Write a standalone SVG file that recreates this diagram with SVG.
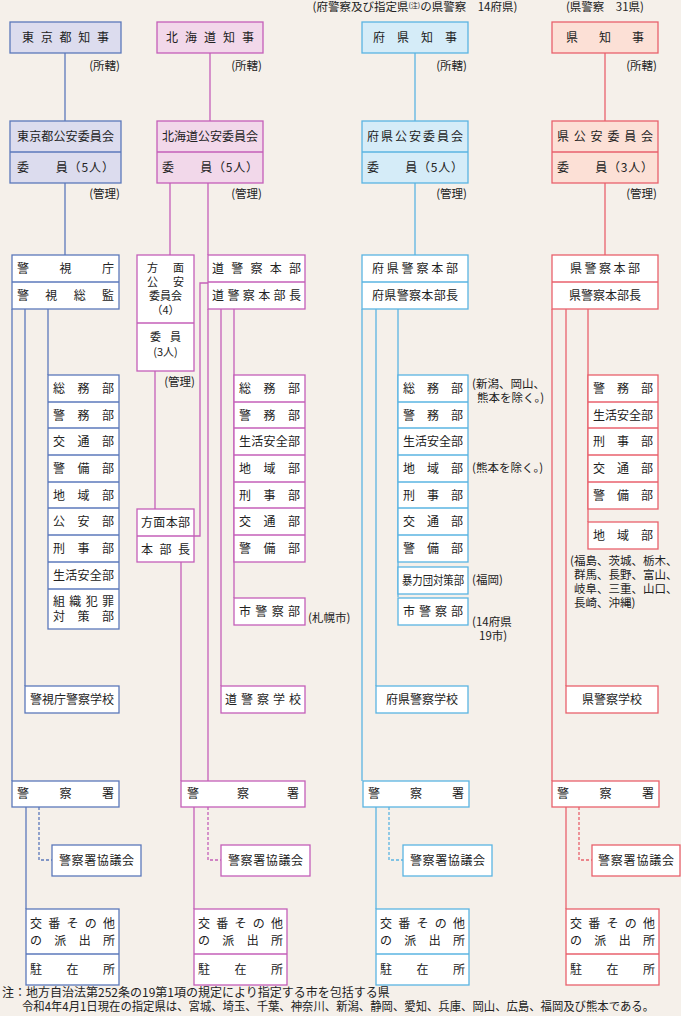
<svg xmlns="http://www.w3.org/2000/svg" width="681" height="1016" viewBox="0 0 681 1016">
<style>
text{font-family:"Noto Sans CJK JP","Noto Sans CJK SC",sans-serif;font-size:12px;fill:#222}
.s{font-size:11.5px}
.t{font-size:11px}
rect{stroke-width:1.3}
line,polyline{stroke-width:1.3;fill:none}
.b rect{stroke:#5b78bb}.b line,.b polyline{stroke:#5b78bb}
.m rect{stroke:#c45fb8}.m line,.m polyline{stroke:#c45fb8}
.c rect{stroke:#5ab4e2}.c line,.c polyline{stroke:#5ab4e2}
.r rect{stroke:#e8616c}.r line,.r polyline{stroke:#e8616c}
.w{fill:#fff}
.d{stroke-dasharray:3 2}
</style>
<rect width="681" height="1016" fill="#f5f0ea"/>
<text x="415" y="11" text-anchor="middle" class="s">(府警察及び指定県<tspan font-size="7" dy="-3">(注)</tspan><tspan dy="3">の県警察　14府県)</tspan></text>
<text x="605" y="11" text-anchor="middle" class="s">(県警察　31県)</text>

<g id="connectors">
<g class="b">
<line x1="65" y1="53" x2="65" y2="121"/><line x1="65" y1="183" x2="65" y2="255"/>
<line x1="12" y1="309" x2="12" y2="781"/><line x1="25" y1="309" x2="25" y2="686"/><line x1="48" y1="309" x2="48" y2="375"/>
<polyline class="d" points="39,807 39,860 52,860"/><line x1="26" y1="807" x2="26" y2="909"/>
</g>
<g class="m">
<line x1="210" y1="53" x2="210" y2="121"/><line x1="170" y1="183" x2="170" y2="255"/><line x1="208" y1="183" x2="208" y2="255"/>
<line x1="155" y1="371" x2="155" y2="509"/>
<polyline points="208,283 200,283 200,536 194,536"/>
<line x1="208" y1="309" x2="208" y2="781"/><line x1="221" y1="309" x2="221" y2="686"/><line x1="234" y1="309" x2="234" y2="598"/>
<line x1="181" y1="562" x2="181" y2="781"/>
<polyline class="d" points="208,807 208,860 221,860"/><line x1="194" y1="807" x2="194" y2="909"/>
</g>
<g class="c">
<line x1="415" y1="53" x2="415" y2="121"/><line x1="415" y1="183" x2="415" y2="255"/>
<line x1="362" y1="309" x2="362" y2="781"/><line x1="376" y1="309" x2="376" y2="686"/><line x1="398" y1="309" x2="398" y2="597"/>
<polyline class="d" points="389,807 389,860 403,860"/><line x1="376" y1="807" x2="376" y2="909"/>
</g>
<g class="r">
<line x1="605" y1="53" x2="605" y2="121"/><line x1="605" y1="183" x2="605" y2="255"/>
<line x1="552" y1="309" x2="552" y2="781"/><line x1="566" y1="309" x2="566" y2="686"/><line x1="588" y1="309" x2="588" y2="522"/>
<polyline class="d" points="579,807 579,860 592,860"/><line x1="566" y1="807" x2="566" y2="909"/>
</g>
</g>

<!-- Tokyo -->
<g class="b">
<g id="tokyo-governor"><rect x="10" y="22" width="111" height="31" fill="#dcdcee"/><text x="22" y="42" textLength="87" lengthAdjust="spacing">東京都知事</text></g>
<text x="120" y="70" text-anchor="end" class="s">(所轄)</text>
<g id="tokyo-psc"><rect x="10" y="121" width="111" height="62" fill="#dcdcee"/><line x1="10" y1="152" x2="121" y2="152"/><text x="17" y="141" textLength="97" lengthAdjust="spacing">東京都公安委員会</text><text x="17" y="172" textLength="97" lengthAdjust="spacing">委　　員（5人）</text></g>
<text x="120" y="198" text-anchor="end" class="s">(管理)</text>
<g id="mpd"><rect x="12" y="255" width="107" height="54" class="w"/><line x1="12" y1="282" x2="119" y2="282"/><text x="17" y="273" textLength="97" lengthAdjust="spacing">警視庁</text><text x="17" y="300" textLength="97" lengthAdjust="spacing">警視総監</text></g>
<g id="mpd-depts">
<rect x="48" y="375" width="71" height="254" class="w"/>
<line x1="48" y1="402" x2="119" y2="402"/><line x1="48" y1="428" x2="119" y2="428"/><line x1="48" y1="455" x2="119" y2="455"/><line x1="48" y1="482" x2="119" y2="482"/><line x1="48" y1="508" x2="119" y2="508"/><line x1="48" y1="535" x2="119" y2="535"/><line x1="48" y1="562" x2="119" y2="562"/><line x1="48" y1="589" x2="119" y2="589"/>
<text x="53" y="393" textLength="61" lengthAdjust="spacing">総務部</text>
<text x="53" y="420" textLength="61" lengthAdjust="spacing">警務部</text>
<text x="53" y="446" textLength="61" lengthAdjust="spacing">交通部</text>
<text x="53" y="473" textLength="61" lengthAdjust="spacing">警備部</text>
<text x="53" y="500" textLength="61" lengthAdjust="spacing">地域部</text>
<text x="53" y="526" textLength="61" lengthAdjust="spacing">公安部</text>
<text x="53" y="553" textLength="61" lengthAdjust="spacing">刑事部</text>
<text x="53" y="580" textLength="61" lengthAdjust="spacing">生活安全部</text>
<text x="53" y="606" textLength="61" lengthAdjust="spacing">組織犯罪</text>
<text x="53" y="621" textLength="61" lengthAdjust="spacing">対策部</text>
</g>
<g id="mpd-school"><rect x="25" y="686" width="94" height="27" class="w"/><text x="30" y="704" textLength="84" lengthAdjust="spacing">警視庁警察学校</text></g>
<g id="tokyo-station"><rect x="12" y="781" width="107" height="26" class="w"/><text x="17" y="798" textLength="97" lengthAdjust="spacing">警察署</text></g>
<g id="tokyo-council"><rect x="52" y="845" width="89" height="31" class="w"/><text x="59" y="865" textLength="75" lengthAdjust="spacing">警察署協議会</text></g>
<g id="tokyo-koban"><rect x="26" y="909" width="93" height="76" class="w"/><line x1="26" y1="954" x2="119" y2="954"/><text x="30" y="928" textLength="85" lengthAdjust="spacing">交番その他</text><text x="30" y="945" textLength="85" lengthAdjust="spacing">の派出所</text><text x="30" y="974" textLength="85" lengthAdjust="spacing">駐在所</text></g>
</g>

<!-- Hokkaido -->
<g class="m">
<g id="hk-governor"><rect x="157" y="22" width="106" height="31" fill="#f2d8ea"/><text x="166" y="42" textLength="88" lengthAdjust="spacing">北海道知事</text></g>
<text x="262" y="70" text-anchor="end" class="s">(所轄)</text>
<g id="hk-psc"><rect x="157" y="121" width="106" height="62" fill="#f2d8ea"/><line x1="157" y1="152" x2="263" y2="152"/><text x="162" y="141" textLength="96" lengthAdjust="spacing">北海道公安委員会</text><text x="162" y="172" textLength="96" lengthAdjust="spacing">委　　員（5人）</text></g>
<text x="262" y="198" text-anchor="end" class="s">(管理)</text>
<g id="hk-area-psc"><rect x="137" y="255" width="57" height="116" class="w"/><line x1="137" y1="323" x2="194" y2="323"/>
<text x="147" y="272" class="t" textLength="37" lengthAdjust="spacing">方面</text><text x="147" y="286" class="t" textLength="37" lengthAdjust="spacing">公安</text><text x="165.5" y="300" class="t" text-anchor="middle">委員会</text><text x="165.5" y="314" class="t" text-anchor="middle">（4）</text>
<text x="150" y="341" class="t" textLength="31" lengthAdjust="spacing">委員</text><text x="165.5" y="356" class="t" text-anchor="middle">(3人)</text></g>
<text x="195" y="386" text-anchor="end" class="s">(管理)</text>
<g id="hk-area-hq"><rect x="137" y="509" width="57" height="53" class="w"/><line x1="137" y1="536" x2="194" y2="536"/><text x="141" y="527" textLength="49" lengthAdjust="spacing">方面本部</text><text x="141" y="554" textLength="49" lengthAdjust="spacing">本部長</text></g>
<g id="hk-hq"><rect x="208" y="255" width="97" height="54" class="w"/><line x1="208" y1="282" x2="305" y2="282"/><text x="212" y="273" textLength="89" lengthAdjust="spacing">道警察本部</text><text x="212" y="300" textLength="89" lengthAdjust="spacing">道警察本部長</text></g>
<g id="hk-depts"><rect x="234" y="375" width="71" height="187" class="w"/>
<line x1="234" y1="402" x2="305" y2="402"/><line x1="234" y1="428" x2="305" y2="428"/><line x1="234" y1="455" x2="305" y2="455"/><line x1="234" y1="482" x2="305" y2="482"/><line x1="234" y1="508" x2="305" y2="508"/><line x1="234" y1="535" x2="305" y2="535"/>
<text x="239" y="393" textLength="61" lengthAdjust="spacing">総務部</text>
<text x="239" y="420" textLength="61" lengthAdjust="spacing">警務部</text>
<text x="239" y="446" textLength="61" lengthAdjust="spacing">生活安全部</text>
<text x="239" y="473" textLength="61" lengthAdjust="spacing">地域部</text>
<text x="239" y="500" textLength="61" lengthAdjust="spacing">刑事部</text>
<text x="239" y="526" textLength="61" lengthAdjust="spacing">交通部</text>
<text x="239" y="553" textLength="61" lengthAdjust="spacing">警備部</text></g>
<g id="hk-city"><rect x="234" y="598" width="71" height="27" class="w"/><text x="239" y="616" textLength="61" lengthAdjust="spacing">市警察部</text></g>
<text x="308" y="622" class="s">(札幌市)</text>
<g id="hk-school"><rect x="221" y="686" width="84" height="27" class="w"/><text x="225" y="704" textLength="76" lengthAdjust="spacing">道警察学校</text></g>
<g id="hk-station"><rect x="181" y="781" width="124" height="26" class="w"/><text x="187" y="798" textLength="112" lengthAdjust="spacing">警察署</text></g>
<g id="hk-council"><rect x="221" y="845" width="89" height="31" class="w"/><text x="228" y="865" textLength="75" lengthAdjust="spacing">警察署協議会</text></g>
<g id="hk-koban"><rect x="194" y="909" width="93" height="76" class="w"/><line x1="194" y1="954" x2="287" y2="954"/><text x="198" y="928" textLength="85" lengthAdjust="spacing">交番その他</text><text x="198" y="945" textLength="85" lengthAdjust="spacing">の派出所</text><text x="198" y="974" textLength="85" lengthAdjust="spacing">駐在所</text></g>
</g>

<!-- Fu/designated prefectures -->
<g class="c">
<g id="fu-governor"><rect x="362" y="22" width="106" height="31" fill="#d5ecf8"/><text x="373" y="42" textLength="84" lengthAdjust="spacing">府県知事</text></g>
<text x="467" y="70" text-anchor="end" class="s">(所轄)</text>
<g id="fu-psc"><rect x="362" y="121" width="106" height="62" fill="#d5ecf8"/><line x1="362" y1="152" x2="468" y2="152"/><text x="367" y="141" textLength="96" lengthAdjust="spacing">府県公安委員会</text><text x="367" y="172" textLength="96" lengthAdjust="spacing">委　　員（5人）</text></g>
<text x="467" y="198" text-anchor="end" class="s">(管理)</text>
<g id="fu-hq"><rect x="362" y="255" width="106" height="54" class="w"/><line x1="362" y1="282" x2="468" y2="282"/><text x="372" y="273" textLength="86" lengthAdjust="spacing">府県警察本部</text><text x="372" y="300" textLength="86" lengthAdjust="spacing">府県警察本部長</text></g>
<g id="fu-depts"><rect x="398" y="375" width="70" height="187" class="w"/>
<line x1="398" y1="402" x2="468" y2="402"/><line x1="398" y1="428" x2="468" y2="428"/><line x1="398" y1="455" x2="468" y2="455"/><line x1="398" y1="482" x2="468" y2="482"/><line x1="398" y1="508" x2="468" y2="508"/><line x1="398" y1="535" x2="468" y2="535"/>
<text x="403" y="393" textLength="60" lengthAdjust="spacing">総務部</text>
<text x="403" y="420" textLength="60" lengthAdjust="spacing">警務部</text>
<text x="403" y="446" textLength="60" lengthAdjust="spacing">生活安全部</text>
<text x="403" y="473" textLength="60" lengthAdjust="spacing">地域部</text>
<text x="403" y="500" textLength="60" lengthAdjust="spacing">刑事部</text>
<text x="403" y="526" textLength="60" lengthAdjust="spacing">交通部</text>
<text x="403" y="553" textLength="60" lengthAdjust="spacing">警備部</text></g>
<g id="fu-boryoku"><rect x="398" y="567" width="70" height="27" class="w"/><text x="402" y="585" font-size="10.5" textLength="62" lengthAdjust="spacingAndGlyphs">暴力団対策部</text></g>
<g id="fu-city"><rect x="398" y="598" width="70" height="27" class="w"/><text x="403" y="616" textLength="60" lengthAdjust="spacing">市警察部</text></g>
<text x="472" y="388" class="s">(新潟、岡山、</text><text x="477" y="402" class="s">熊本を除く。)</text>
<text x="472" y="472" class="s">(熊本を除く。)</text>
<text x="472" y="584" class="s">(福岡)</text>
<text x="472" y="626" class="s">(14府県</text><text x="479" y="640" class="s">19市)</text>
<g id="fu-school"><rect x="376" y="686" width="92" height="27" class="w"/><text x="422" y="704" text-anchor="middle">府県警察学校</text></g>
<g id="fu-station"><rect x="363" y="781" width="106" height="26" class="w"/><text x="368" y="798" textLength="96" lengthAdjust="spacing">警察署</text></g>
<g id="fu-council"><rect x="403" y="845" width="89" height="31" class="w"/><text x="410" y="865" textLength="75" lengthAdjust="spacing">警察署協議会</text></g>
<g id="fu-koban"><rect x="376" y="909" width="93" height="76" class="w"/><line x1="376" y1="954" x2="469" y2="954"/><text x="380" y="928" textLength="85" lengthAdjust="spacing">交番その他</text><text x="380" y="945" textLength="85" lengthAdjust="spacing">の派出所</text><text x="380" y="974" textLength="85" lengthAdjust="spacing">駐在所</text></g>
</g>

<!-- Prefectures (31) -->
<g class="r">
<g id="ken-governor"><rect x="552" y="22" width="106" height="31" fill="#fce0d6"/><text x="566" y="42" textLength="78" lengthAdjust="spacing">県知事</text></g>
<text x="657" y="70" text-anchor="end" class="s">(所轄)</text>
<g id="ken-psc"><rect x="552" y="121" width="106" height="62" fill="#fce0d6"/><line x1="552" y1="152" x2="658" y2="152"/><text x="557" y="141" textLength="96" lengthAdjust="spacing">県公安委員会</text><text x="557" y="172" textLength="96" lengthAdjust="spacing">委　　員（3人）</text></g>
<text x="657" y="198" text-anchor="end" class="s">(管理)</text>
<g id="ken-hq"><rect x="552" y="255" width="106" height="54" class="w"/><line x1="552" y1="282" x2="658" y2="282"/><text x="570" y="273" textLength="70" lengthAdjust="spacing">県警察本部</text><text x="605" y="300" text-anchor="middle">県警察本部長</text></g>
<g id="ken-depts"><rect x="588" y="375" width="70" height="134" class="w"/>
<line x1="588" y1="402" x2="658" y2="402"/><line x1="588" y1="428" x2="658" y2="428"/><line x1="588" y1="455" x2="658" y2="455"/><line x1="588" y1="482" x2="658" y2="482"/>
<text x="593" y="393" textLength="60" lengthAdjust="spacing">警務部</text>
<text x="593" y="420" textLength="60" lengthAdjust="spacing">生活安全部</text>
<text x="593" y="446" textLength="60" lengthAdjust="spacing">刑事部</text>
<text x="593" y="473" textLength="60" lengthAdjust="spacing">交通部</text>
<text x="593" y="500" textLength="60" lengthAdjust="spacing">警備部</text></g>
<g id="ken-chiiki"><rect x="588" y="522" width="70" height="27" class="w"/><text x="593" y="540" textLength="60" lengthAdjust="spacing">地域部</text></g>
<text x="570" y="565" class="s">(福島、茨城、栃木、</text>
<text x="574" y="579" class="s">群馬、長野、富山、</text>
<text x="574" y="593" class="s">岐阜、三重、山口、</text>
<text x="574" y="607" class="s">長崎、沖縄)</text>
<g id="ken-school"><rect x="566" y="686" width="92" height="27" class="w"/><text x="612" y="704" text-anchor="middle">県警察学校</text></g>
<g id="ken-station"><rect x="552" y="781" width="107" height="26" class="w"/><text x="557" y="798" textLength="97" lengthAdjust="spacing">警察署</text></g>
<g id="ken-council"><rect x="592" y="845" width="88" height="31" class="w"/><text x="598" y="865" textLength="76" lengthAdjust="spacing">警察署協議会</text></g>
<g id="ken-koban"><rect x="566" y="909" width="93" height="76" class="w"/><line x1="566" y1="954" x2="659" y2="954"/><text x="570" y="928" textLength="85" lengthAdjust="spacing">交番その他</text><text x="570" y="945" textLength="85" lengthAdjust="spacing">の派出所</text><text x="570" y="974" textLength="85" lengthAdjust="spacing">駐在所</text></g>
</g>

<text x="2" y="997" font-size="10">注：地方自治法第252条の19第1項の規定により指定する市を包括する県</text>
<text x="22" y="1011" font-size="10" textLength="632" lengthAdjust="spacingAndGlyphs">令和4年4月1日現在の指定県は、宮城、埼玉、千葉、神奈川、新潟、静岡、愛知、兵庫、岡山、広島、福岡及び熊本である。</text>
</svg>
